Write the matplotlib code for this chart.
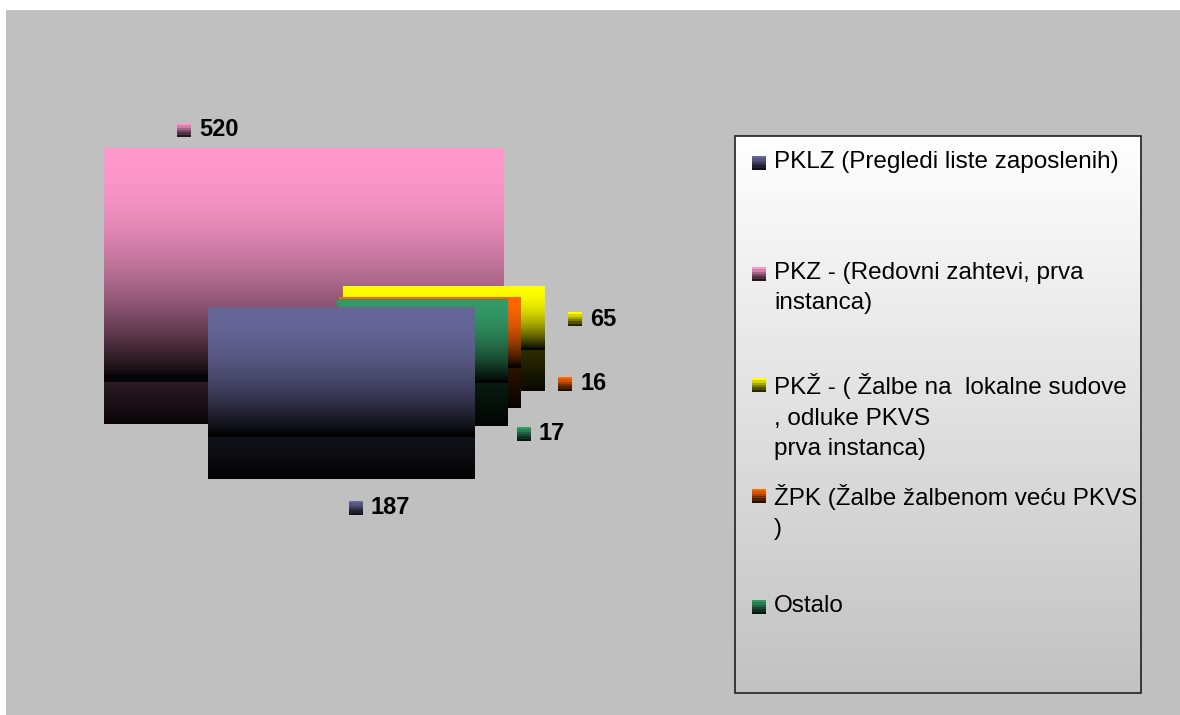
import numpy as np
import matplotlib
matplotlib.use('Agg')
import matplotlib.pyplot as plt
from matplotlib.colors import to_rgb
from matplotlib.patches import Rectangle

# data
categories = ['PKLZ (Pregledi liste zaposlenih)',
              'PKZ - (Redovni zahtevi, prva\ninstanca)',
              'PKŽ - ( Žalbe na  lokalne sudove\n, odluke PKVS\nprva instanca)',
              'ŽPK (Žalbe žalbenom veću PKVS\n)',
              'Ostalo']
values = [187, 520, 65, 16, 17]
colors = ['#666699', '#ff99cc', '#ffff00', '#ff6600', '#339966']

# layout (figure pixels): x0, x1, top, split, bottom for each slice block
blocks = {1: (104, 504, 148, 382, 424),
          2: (343, 545, 286, 350, 391),
          3: (339, 521, 297, 368, 408),
          4: (337, 508, 299, 383, 426),
          0: (208, 475, 307, 437, 479)}
draw_order = [1, 2, 3, 4, 0]
label_pos = {1: (177, 130), 2: (568, 319), 3: (558, 384), 4: (517, 434), 0: (349, 508)}
legend_rows = [160, 271, 382, 493, 604]

W, H = 1180, 715
fig = plt.figure(figsize=(W / 100, H / 100), dpi=100)
fig.patch.set_facecolor('white')
ax = fig.add_axes([0, 0, 1, 1])
ax.axis('off')


def upper_grad(c, n=256):
    t = np.linspace(0, 1, n)
    f = np.clip(1 - t ** 2, 0.02, 1)
    f[-8:] = 0.02
    return (np.array(to_rgb(c))[None, :] * f[:, None])[:, None, :]


def lower_grad(c, n=128):
    t = np.linspace(0, 1, n)
    f = 0.18 - 0.15 * t
    return (np.array(to_rgb(c))[None, :] * f[:, None])[:, None, :]


def steps(c, n=6):
    t = np.linspace(0, 1, n)
    f = 1 - 0.85 * t
    return (np.array(to_rgb(c))[None, :] * f[:, None])[:, None, :]


# grey background
ax.add_patch(Rectangle((6, 10), W - 6, H - 10, facecolor='#c0c0c0', edgecolor='none', zorder=0))

# slice blocks
z = 1
for i in draw_order:
    x0, x1, top, mid, bot = blocks[i]
    ax.imshow(lower_grad(colors[i]), extent=(x0, x1, bot, mid - 1), aspect='auto',
              interpolation='bilinear', zorder=z)
    ax.imshow(upper_grad(colors[i]), extent=(x0, x1, mid, top), aspect='auto',
              interpolation='bilinear', zorder=z + 0.5)
    z += 1

# value labels
for i, v in enumerate(values):
    lx, ly = label_pos[i]
    ax.imshow(steps(colors[i]), extent=(lx, lx + 14, ly + 7, ly - 7), aspect='auto',
              interpolation='nearest', zorder=20)
    ax.text(lx + 22, ly, str(v), fontsize=17, fontweight='bold', family='Liberation Sans',
            va='center', ha='left', color='black', zorder=21)

# legend box
lx0, lx1, ly0, ly1 = 735, 1141, 136, 693
bg = np.linspace(1.0, 0.76, 256)
bg = np.repeat(bg[:, None, None], 3, axis=2)
ax.imshow(bg, extent=(lx0, lx1, ly1, ly0), aspect='auto', interpolation='bilinear', zorder=30)
ax.add_patch(Rectangle((lx0, ly0), lx1 - lx0, ly1 - ly0, facecolor='none',
                       edgecolor='#202020', linewidth=1.2, zorder=31))
for i, lab in enumerate(categories):
    y = legend_rows[i]
    ax.imshow(steps(colors[i]), extent=(752, 766, y + 10, y - 4), aspect='auto',
              interpolation='nearest', zorder=32)
    ax.text(774, y - 9, lab, fontsize=17.5, family='Liberation Sans', va='top',
            ha='left', linespacing=1.5, color='black', zorder=32)

ax.set_xlim(0, W)
ax.set_ylim(H, 0)
fig.savefig('out.png', dpi=100)
